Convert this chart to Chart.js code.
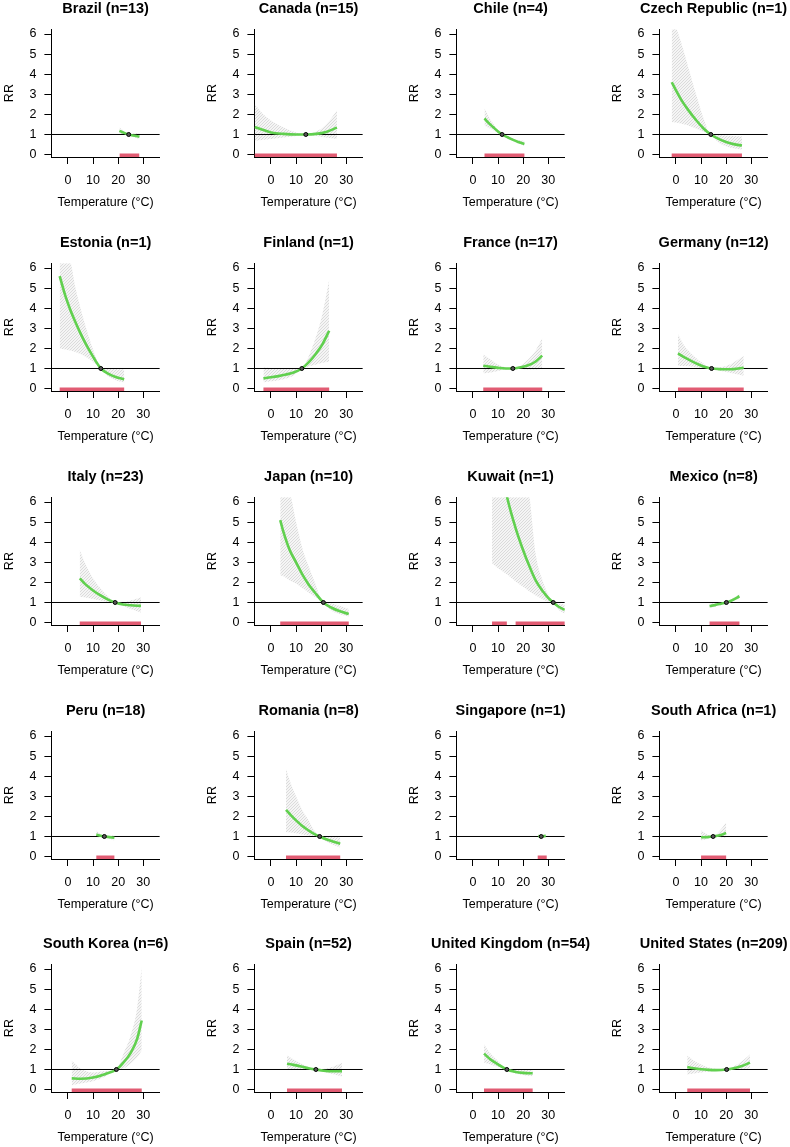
<!DOCTYPE html>
<html>
<head>
<meta charset="utf-8">
<script src="https://cdn.jsdelivr.net/npm/chart.js@4.4.1/dist/chart.umd.min.js"></script>
<style>
  html, body { margin: 0; padding: 0; background: #fff; }
  body { width: 790px; height: 1147px; overflow: hidden; position: relative; }
  .panel { position: absolute; }
</style>
</head>
<body>
<script>
// ---- data ----
const countryNames = ['Brazil', 'Canada', 'Chile', 'Czech Republic', 'Estonia', 'Finland', 'France', 'Germany',
  'Italy', 'Japan', 'Kuwait', 'Mexico', 'Peru', 'Romania', 'Singapore', 'South Africa',
  'South Korea', 'Spain', 'United Kingdom', 'United States'];
const studyCounts = [13, 15, 4, 1, 1, 1, 17, 12, 23, 10, 1, 8, 18, 8, 1, 1, 6, 52, 54, 209];

// temperature of minimum risk (RR = 1)
const mmtTemps = [24.2, 13.9, 11.6, 13.9, 13.1, 12.3, 15.9, 14.2, 18.8, 20.9, 32, 20.1,
  14.5, 19.4, 27.2, 14.8, 19.3, 17.9, 13.5, 20.2];

// temperatures where the curve was read
const temps = [
  [20.5, 22, 24.2, 26, 28.5],                                 // Brazil
  [-6.5, -3, 0, 5, 10, 13.9, 18, 22, 26.3],                   // Canada
  [4.6, 6, 8, 10, 11.6, 14, 16, 18, 20.5],                    // Chile
  [-1.7, 0, 2, 5, 8, 11, 13.9, 17, 20, 23, 26.3],             // Czech Republic
  [-3.3, -1, 1, 3, 5, 7, 9, 11, 13.1, 16, 19, 22.4],          // Estonia
  [-3, 0, 3, 6, 9, 12.3, 15, 18, 20.5, 23.2],                 // Finland
  [4.1, 7, 10, 13, 15.9, 19, 22, 25, 27.6],                   // France
  [0.8, 3, 6, 9, 12, 14.2, 17, 20, 23, 27],                   // Germany
  [4.7, 7, 10, 13, 16, 18.8, 22, 25, 29.1],                   // Italy
  [3.7, 5, 7.5, 10, 12.5, 15, 17.5, 20.9, 24, 27.5, 31],      // Japan
  [7.6, 10, 13.5, 17, 20, 22.5, 25, 28, 30, 32, 34, 36.6],    // Kuwait
  [13.4, 15.5, 18, 20.1, 22.5, 25.3],                         // Mexico
  [11.3, 13, 14.5, 16.5, 18.5],                               // Peru
  [6, 8, 10, 12.5, 15, 17, 19.4, 22, 25, 27.6],               // Romania
  [26, 27.2, 29],                                             // Singapore
  [10, 12.5, 14.8, 17.5, 20],                                 // South Africa
  [1.5, 5, 10, 15, 19.3, 22, 25, 27.5, 29.4],                 // South Korea
  [6.4, 9, 12, 15, 17.9, 21, 24.5, 28.3],                     // Spain
  [4.4, 7, 10, 13.5, 17, 20, 23.8],                           // United Kingdom
  [4.5, 7, 10, 13, 16, 20.2, 23, 26, 29.5]                    // United States
];

// relative risk
const rrValues = [
  [1.18, 1.1, 1.0, 0.95, 0.9],
  [1.37, 1.22, 1.1, 1.03, 1.0, 1.0, 1.03, 1.13, 1.34],
  [1.8, 1.6, 1.37, 1.15, 1.0, 0.85, 0.73, 0.63, 0.53],
  [3.6, 3.2, 2.75, 2.2, 1.72, 1.3, 1.0, 0.78, 0.63, 0.52, 0.45],
  [5.6, 4.6, 3.9, 3.3, 2.75, 2.25, 1.8, 1.38, 1.0, 0.75, 0.58, 0.46],
  [0.51, 0.56, 0.62, 0.7, 0.8, 1.0, 1.3, 1.75, 2.2, 2.88],
  [1.14, 1.08, 1.03, 1.0, 1.0, 1.06, 1.16, 1.35, 1.64],
  [1.75, 1.58, 1.38, 1.2, 1.06, 1.0, 0.97, 0.96, 0.97, 1.04],
  [2.2, 1.9, 1.6, 1.35, 1.14, 1.0, 0.9, 0.86, 0.83],
  [5.1, 4.5, 3.6, 3.0, 2.4, 1.9, 1.5, 1.0, 0.75, 0.56, 0.43],
  [10.5, 8.6, 6.3, 4.7, 3.6, 2.8, 2.1, 1.53, 1.23, 1.0, 0.8, 0.63],
  [0.82, 0.87, 0.94, 1.0, 1.12, 1.31],
  [1.1, 1.04, 1.0, 0.97, 0.94],
  [2.33, 2.05, 1.8, 1.52, 1.3, 1.14, 1.0, 0.86, 0.74, 0.64],
  [1.02, 1.0, 1.03],
  [0.96, 0.97, 1.0, 1.06, 1.17],
  [0.56, 0.54, 0.6, 0.78, 1.0, 1.33, 1.83, 2.5, 3.44],
  [1.29, 1.23, 1.15, 1.06, 1.0, 0.94, 0.91, 0.91],
  [1.79, 1.5, 1.26, 1.0, 0.88, 0.83, 0.81],
  [1.12, 1.06, 1.01, 0.98, 0.97, 1.0, 1.06, 1.16, 1.34]
];

// confidence band, upper
const rrHigh = [
  [1.35, 1.2, 1.0, 1.05, 1.08],
  [2.5, 2.0, 1.7, 1.35, 1.1, 1.0, 1.15, 1.5, 2.2],
  [2.3, 1.95, 1.55, 1.2, 1.0, 0.9, 0.8, 0.72, 0.68],
  [6.5, 6.3, 5.6, 4.3, 3.0, 1.8, 1.0, 0.98, 0.95, 0.92, 0.9],
  [6.8, 6.6, 6.3, 5.0, 4.0, 3.1, 2.3, 1.6, 1.0, 0.98, 0.97, 0.95],
  [1.05, 1.03, 1.0, 0.98, 0.98, 1.0, 1.6, 2.6, 3.7, 5.4],
  [1.7, 1.45, 1.2, 1.05, 1.0, 1.15, 1.45, 1.9, 2.5],
  [2.7, 2.2, 1.75, 1.42, 1.15, 1.0, 1.05, 1.12, 1.3, 1.62],
  [3.6, 2.9, 2.2, 1.7, 1.3, 1.0, 1.0, 1.1, 1.25],
  [7, 7, 6.5, 5.0, 3.7, 2.8, 2.0, 1.0, 0.95, 0.82, 0.68],
  [20, 18, 15, 11, 8, 6.3, 3.4, 2.0, 1.4, 1.0, 0.95, 0.9],
  [0.95, 0.96, 0.98, 1.0, 1.2, 1.42],
  [1.3, 1.1, 1.0, 1.03, 1.06],
  [4.35, 3.6, 3.0, 2.3, 1.8, 1.35, 1.0, 0.97, 0.96, 0.95],
  [1.08, 1.0, 1.1],
  [1.3, 1.1, 1.0, 1.3, 1.7],
  [1.45, 1.05, 0.85, 0.92, 1.0, 1.75, 2.7, 4.0, 6.1],
  [1.7, 1.5, 1.3, 1.13, 1.0, 1.02, 1.12, 1.32],
  [2.25, 1.8, 1.42, 1.0, 0.97, 0.98, 1.0],
  [1.7, 1.45, 1.25, 1.1, 1.03, 1.0, 1.15, 1.38, 1.75]
];

// confidence band, lower
const rrLow = [
  [1.0, 1.0, 1.0, 0.88, 0.78],
  [0.68, 0.74, 0.78, 0.85, 0.93, 1.0, 0.92, 0.85, 0.78],
  [1.45, 1.35, 1.22, 1.08, 1.0, 0.8, 0.67, 0.56, 0.44],
  [1.62, 1.6, 1.55, 1.45, 1.3, 1.12, 1.0, 0.6, 0.42, 0.32, 0.25],
  [2.0, 1.95, 1.9, 1.82, 1.72, 1.58, 1.42, 1.22, 1.0, 0.62, 0.42, 0.3],
  [0.32, 0.36, 0.42, 0.5, 0.65, 1.0, 1.1, 1.2, 1.28, 1.35],
  [0.76, 0.8, 0.88, 0.96, 1.0, 0.98, 0.95, 0.95, 1.0],
  [1.12, 1.12, 1.1, 1.05, 1.0, 1.0, 0.9, 0.83, 0.75, 0.64],
  [1.28, 1.25, 1.18, 1.1, 1.03, 1.0, 0.82, 0.68, 0.5],
  [2.35, 2.3, 2.1, 1.95, 1.72, 1.5, 1.28, 1.0, 0.6, 0.42, 0.3],
  [2.95, 2.7, 2.4, 2.05, 1.78, 1.55, 1.35, 1.15, 1.05, 1.0, 0.65, 0.45],
  [0.72, 0.79, 0.9, 1.0, 1.05, 1.2],
  [0.95, 0.97, 1.0, 0.9, 0.8],
  [1.22, 1.2, 1.16, 1.1, 1.05, 1.02, 1.0, 0.75, 0.58, 0.45],
  [0.96, 1.0, 0.97],
  [0.8, 0.88, 1.0, 0.96, 0.94],
  [0.22, 0.3, 0.42, 0.66, 1.0, 1.05, 1.3, 1.6, 1.95],
  [0.97, 0.98, 0.99, 0.99, 1.0, 0.88, 0.78, 0.65],
  [1.35, 1.25, 1.12, 1.0, 0.8, 0.72, 0.66],
  [0.75, 0.8, 0.85, 0.9, 0.93, 1.0, 1.0, 1.02, 1.05]
];

// rug of observed temperatures, as [from, to] stretches
const rugSpans = [
  [[20.6, 28.4]], [[-6.5, 26.3]], [[4.6, 20.5]], [[-1.7, 26.3]],
  [[-3.3, 22.4]], [[-3, 23.2]], [[4.1, 27.6]], [[0.8, 27]],
  [[4.7, 29.1]], [[3.7, 31]], [[7.6, 13.5], [17, 36.6]], [[13.4, 25.3]],
  [[11.3, 18.5]], [[6, 27.6]], [[25.8, 29.4]], [[10, 20]],
  [[1.5, 29.4]], [[6.4, 28.3]], [[4.4, 23.8]], [[4.5, 29.5]]
];

const xTicks = [0, 10, 20, 30];
const yTicks = [0, 1, 2, 3, 4, 5, 6];
const xLimits = [-6.6, 36.6];
const yLimits = [-0.12, 6.24];
const refRR = 1;
const rugLevel = -0.03;

// ---- drawing ----
const FONT = '"Liberation Sans", Arial, Helvetica, sans-serif';
Chart.defaults.font.family = FONT;
Chart.defaults.color = '#000';

const GREEN = '#61D04F';
const RED = 'rgba(223, 83, 107, 0.95)';

function hatchPattern() {
  const c = document.createElement('canvas');
  c.width = 3; c.height = 3;
  const g = c.getContext('2d');
  g.fillStyle = 'rgba(235,235,235,0.5)';
  g.fillRect(0, 0, 3, 3);
  g.strokeStyle = 'rgba(175,175,175,0.55)';
  g.lineWidth = 0.7;
  g.beginPath();
  g.moveTo(0, 3); g.lineTo(3, 0);
  g.moveTo(-1, 1); g.lineTo(1, -1);
  g.moveTo(2, 4); g.lineTo(4, 2);
  g.stroke();
  return g.createPattern(c, 'repeat');
}
const hatch = hatchPattern();

const panelTitle = {
  id: 'panelTitle',
  afterDraw(chart, args, opts) {
    const { ctx, chartArea } = chart;
    ctx.save();
    ctx.font = 'bold 14.5px ' + FONT;
    ctx.fillStyle = '#000';
    ctx.textAlign = 'center';
    ctx.textBaseline = 'middle';
    ctx.fillText(opts.text, (chartArea.left + chartArea.right) / 2, 8.6);
    ctx.restore();
  }
};

const COL_W = 202.5, ROW_H = 233.85, CANVAS_W = 203, CANVAS_H = 234;

function buildPanel(i) {
  const col = i % 4, row = Math.floor(i / 4);
  const canvas = document.createElement('canvas');
  canvas.className = 'panel';
  canvas.width = CANVAS_W;
  canvas.height = CANVAS_H;
  canvas.style.left = (col * COL_W) + 'px';
  canvas.style.top = (row * ROW_H) + 'px';
  document.body.appendChild(canvas);

  const curve = temps[i].map((t, k) => ({ x: t, y: rrValues[i][k] }));
  const upper = temps[i].map((t, k) => ({ x: t, y: rrHigh[i][k] }));
  const lower = temps[i].map((t, k) => ({ x: t, y: rrLow[i][k] }));

  const datasets = [];
  datasets.push({
    type: 'scatter', data: [{ x: mmtTemps[i], y: refRR }],
    pointRadius: 2, pointBorderWidth: 1, pointBorderColor: '#000', pointBackgroundColor: '#555'
  });
  for (const span of rugSpans[i]) {
    datasets.push({
      data: span.map(t => ({ x: t, y: rugLevel })),
      borderColor: RED, borderWidth: 3.5, borderCapStyle: 'butt', pointRadius: 0, fill: false
    });
  }
  datasets.push({
    data: curve, borderColor: GREEN, borderWidth: 2.6, pointRadius: 0,
    cubicInterpolationMode: 'monotone', fill: false
  });
  datasets.push({
    data: xLimits.map(x => ({ x: x, y: refRR })),
    borderColor: '#000', borderWidth: 1, pointRadius: 0, fill: false
  });
  const hiIndex = datasets.length;
  datasets.push({
    data: upper, borderWidth: 0, borderColor: 'rgba(0,0,0,0)', pointRadius: 0,
    cubicInterpolationMode: 'monotone', backgroundColor: hatch, fill: hiIndex + 1
  });
  datasets.push({
    data: lower, borderWidth: 0, borderColor: 'rgba(0,0,0,0)', pointRadius: 0,
    cubicInterpolationMode: 'monotone', fill: false
  });

  new Chart(canvas, {
    type: 'line',
    data: { datasets: datasets },
    plugins: [panelTitle],
    options: {
      responsive: false,
      animation: false,
      events: [],
      layout: { padding: { left: 0, top: 29.2, right: 43.2, bottom: 0 } },
      plugins: {
        legend: { display: false },
        tooltip: { enabled: false },
        panelTitle: { text: countryNames[i] + ' (n=' + studyCounts[i] + ')' }
      },
      scales: {
        x: {
          type: 'linear', min: xLimits[0], max: xLimits[1],
          afterBuildTicks: s => { s.ticks = xTicks.map(v => ({ value: v })); },
          afterFit: s => { s.height = 77; },
          grid: { display: true, drawOnChartArea: false, drawTicks: true, tickLength: 7, color: '#000' },
          border: { display: true, color: '#000', width: 1 },
          ticks: { font: { size: 12.5 }, padding: 9, maxRotation: 0, autoSkip: false, color: '#000' },
          title: { display: true, text: 'Temperature (°C)', font: { size: 12.5 }, padding: { top: 0, bottom: 24 }, color: '#000' }
        },
        y: {
          type: 'linear', min: yLimits[0], max: yLimits[1],
          afterBuildTicks: s => { s.ticks = yTicks.map(v => ({ value: v })); },
          afterFit: s => { s.width = 51.4; },
          grid: { display: true, drawOnChartArea: false, drawTicks: true, tickLength: 7, color: '#000' },
          border: { display: true, color: '#000', width: 1 },
          ticks: { font: { size: 12.5 }, padding: 8, autoSkip: false, color: '#000' },
          title: { display: true, text: 'RR', font: { size: 12.5 }, padding: { top: 2.5, bottom: 0 }, color: '#000' }
        }
      }
    }
  });
}

countryNames.forEach((name, i) => buildPanel(i));
</script>
</body>
</html>
